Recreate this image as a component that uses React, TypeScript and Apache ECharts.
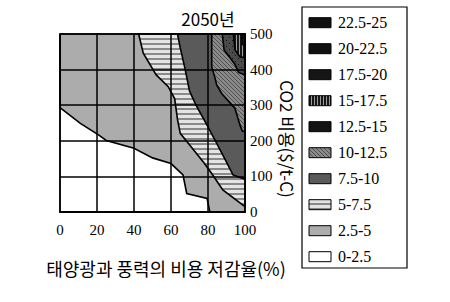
import { useEffect, useRef } from 'react';
import * as echarts from 'echarts';

// Axes
const xTicks = [0, 20, 40, 60, 80, 100];
const yTicks = [0, 100, 200, 300, 400, 500];

// Legend entries (top to bottom)
const legendLabels = ['22.5-25', '20-22.5', '17.5-20', '15-17.5', '12.5-15', '10-12.5', '7.5-10', '5-7.5', '2.5-5', '0-2.5'];

// Contour regions: x = cost reduction (%), y = CO2 cost ($/t-C)
// Each is the region where the value is at or above the band's lower threshold.
const region2_5 = [[0, 293], [11, 249], [21, 216], [25, 201], [40, 179], [50, 152], [60, 136], [66.5, 104], [68.5, 52], [79.5, 38], [81, 0], [100, 0], [100, 500], [0, 500]];
const region5 = [[42.5, 500], [45, 446], [52, 385], [58.5, 352], [62, 318], [63.5, 260], [65, 221], [69, 195], [78, 137], [82, 108], [88, 62], [100, 15], [100, 500]];
const region7_5 = [[63.5, 500], [65, 461], [67.5, 404], [70, 340], [73.5, 300], [78, 258], [84, 200], [90, 140], [93.5, 104], [100, 92], [100, 500]];
const region10 = [[82, 500], [82, 408], [83.8, 376], [84.7, 357], [87.4, 333], [94.6, 291], [97.3, 244], [98.5, 228], [100, 225], [100, 500]];
const region12_5 = [[87.7, 500], [88.7, 455], [94.5, 415], [96.5, 392], [100, 385], [100, 500]];
const region15 = [[93.7, 500], [94.6, 455], [97.3, 436], [100, 433], [100, 500]];
const region17_5 = [[98.2, 500], [98.5, 472], [100, 464], [100, 500]];

const regions = [region2_5, region5, region7_5, region10, region12_5, region15, region17_5];
const regionStyleKeys = ['b2_5', 'b5', 'b7_5', 'b10', 'b12_5', 'b15', 'b17_5'];
const legendStyleKeys = ['b22_5', 'b20', 'b17_5', 'b15', 'b12_5', 'b10', 'b7_5', 'b5', 'b2_5', 'b0'];

function makePattern(w: number, h: number, draw: (ctx: CanvasRenderingContext2D) => void) {
  const c = document.createElement('canvas');
  c.width = w;
  c.height = h;
  const ctx = c.getContext('2d') as CanvasRenderingContext2D;
  draw(ctx);
  return { image: c, repeat: 'repeat' } as any;
}

export default function App() {
  const ref = useRef<HTMLDivElement>(null);
  useEffect(() => {
    if (!ref.current) return;
    const chart = echarts.init(ref.current, undefined, { renderer: 'svg' });

    const fills: Record<string, any> = {
      b0: '#ffffff',
      b2_5: '#acacac',
      b5: makePattern(4, 5, (ctx) => {
        ctx.fillStyle = '#8a8a8a';
        ctx.fillRect(0, 0, 4, 5);
        ctx.fillStyle = '#e4e4e4';
        ctx.fillRect(0, 0, 4, 3);
      }),
      b7_5: '#5a5a5a',
      b10: makePattern(4, 4, (ctx) => {
        ctx.fillStyle = '#8a8a8a';
        ctx.fillRect(0, 0, 4, 4);
        ctx.fillStyle = '#505050';
        for (let i = 0; i < 4; i++) ctx.fillRect(i, i, 1, 1);
      }),
      b12_5: makePattern(6, 6, (ctx) => {
        ctx.fillStyle = '#4a4a4a';
        ctx.fillRect(0, 0, 6, 6);
        ctx.fillStyle = '#111111';
        ctx.fillRect(1, 1, 1, 1);
        ctx.fillRect(4, 4, 1, 1);
      }),
      b15: makePattern(3, 4, (ctx) => {
        ctx.fillStyle = '#9a9a9a';
        ctx.fillRect(0, 0, 3, 4);
        ctx.fillStyle = '#151515';
        ctx.fillRect(0, 0, 2, 4);
      }),
      b17_5: '#161616',
      b20: '#111111',
      b22_5: '#111111',
    };
    const legendFills: Record<string, any> = { ...fills, b12_5: '#141414' };

    const series: any[] = regions.map((pts, k) => ({
      type: 'custom',
      coordinateSystem: 'cartesian2d',
      z: 2,
      silent: true,
      data: [[pts[0][0], pts[0][1]]],
      renderItem: (params: any, api: any) => ({
        type: 'polygon',
        shape: { points: pts.map((p) => api.coord(p)) },
        style: { fill: fills[regionStyleKeys[k]], stroke: '#000', lineWidth: 1.6 },
      }),
    }));

    const serif = "'Liberation Serif', 'Times New Roman', serif";
    const sans = "'Noto Sans CJK KR', 'Noto Sans', sans-serif";

    const legendEls: any[] = [
      { type: 'rect', shape: { x: 302, y: 7, width: 105, height: 261 }, style: { fill: '#fff', stroke: '#000', lineWidth: 1.2 } },
    ];
    legendLabels.forEach((lab, i) => {
      const cy = 22.7 + i * 26;
      legendEls.push({
        type: 'rect',
        shape: { x: 309, y: cy - 5, width: 22, height: 10 },
        style: { fill: legendFills[legendStyleKeys[i]], stroke: '#000', lineWidth: 1 },
      });
      legendEls.push({
        type: 'text',
        x: 338,
        y: cy,
        style: { text: lab, fontSize: 16, fontFamily: serif, fill: '#000', verticalAlign: 'middle', textAlign: 'left' },
      });
    });

    chart.setOption({
      animation: false,
      grid: { left: 60, right: 205, top: 34, bottom: 90, containLabel: false },
      xAxis: {
        type: 'value',
        min: 0,
        max: 100,
        interval: 20,
        z: 5,
        axisLine: { show: true, lineStyle: { color: '#000', width: 2 } },
        axisTick: { show: false },
        splitLine: { show: true, lineStyle: { color: '#000', width: 1.5 } },
        axisLabel: {
          margin: 10,
          color: '#000',
          fontSize: 15,
          fontFamily: serif,
          formatter: (v: number) => (xTicks.includes(v) ? String(v) : ''),
        },
      },
      yAxis: {
        type: 'value',
        position: 'right',
        min: 0,
        max: 500,
        interval: 100,
        z: 5,
        axisLine: { show: true, lineStyle: { color: '#000', width: 1.5 } },
        axisTick: { show: false },
        splitLine: { show: true, lineStyle: { color: '#000', width: 1.5 } },
        axisLabel: {
          margin: 5,
          color: '#000',
          fontSize: 15,
          fontFamily: serif,
          formatter: (v: number) => (yTicks.includes(v) ? String(v) : ''),
        },
      },
      series,
      graphic: [
        {
          type: 'text',
          x: 208,
          y: 18,
          style: { text: '2050년', fontSize: 17, fontFamily: sans, fill: '#000', textAlign: 'center', verticalAlign: 'middle' },
        },
        {
          type: 'text',
          x: 166,
          y: 268,
          style: { text: '태양광과 풍력의 비용 저감율(%)', fontSize: 18, fontFamily: sans, fill: '#000', textAlign: 'center', verticalAlign: 'middle' },
        },
        {
          type: 'text',
          x: 287,
          y: 139,
          rotation: -Math.PI / 2,
          style: { text: 'CO2 비용($/t-C)', fontSize: 17, fontFamily: sans, fill: '#000', textAlign: 'center', verticalAlign: 'middle' },
        },
        ...legendEls,
      ],
    });
    return () => chart.dispose();
  }, []);
  return <div ref={ref} style={{ position: 'absolute', left: 0, top: 0, width: 450, height: 302 }} />;
}
